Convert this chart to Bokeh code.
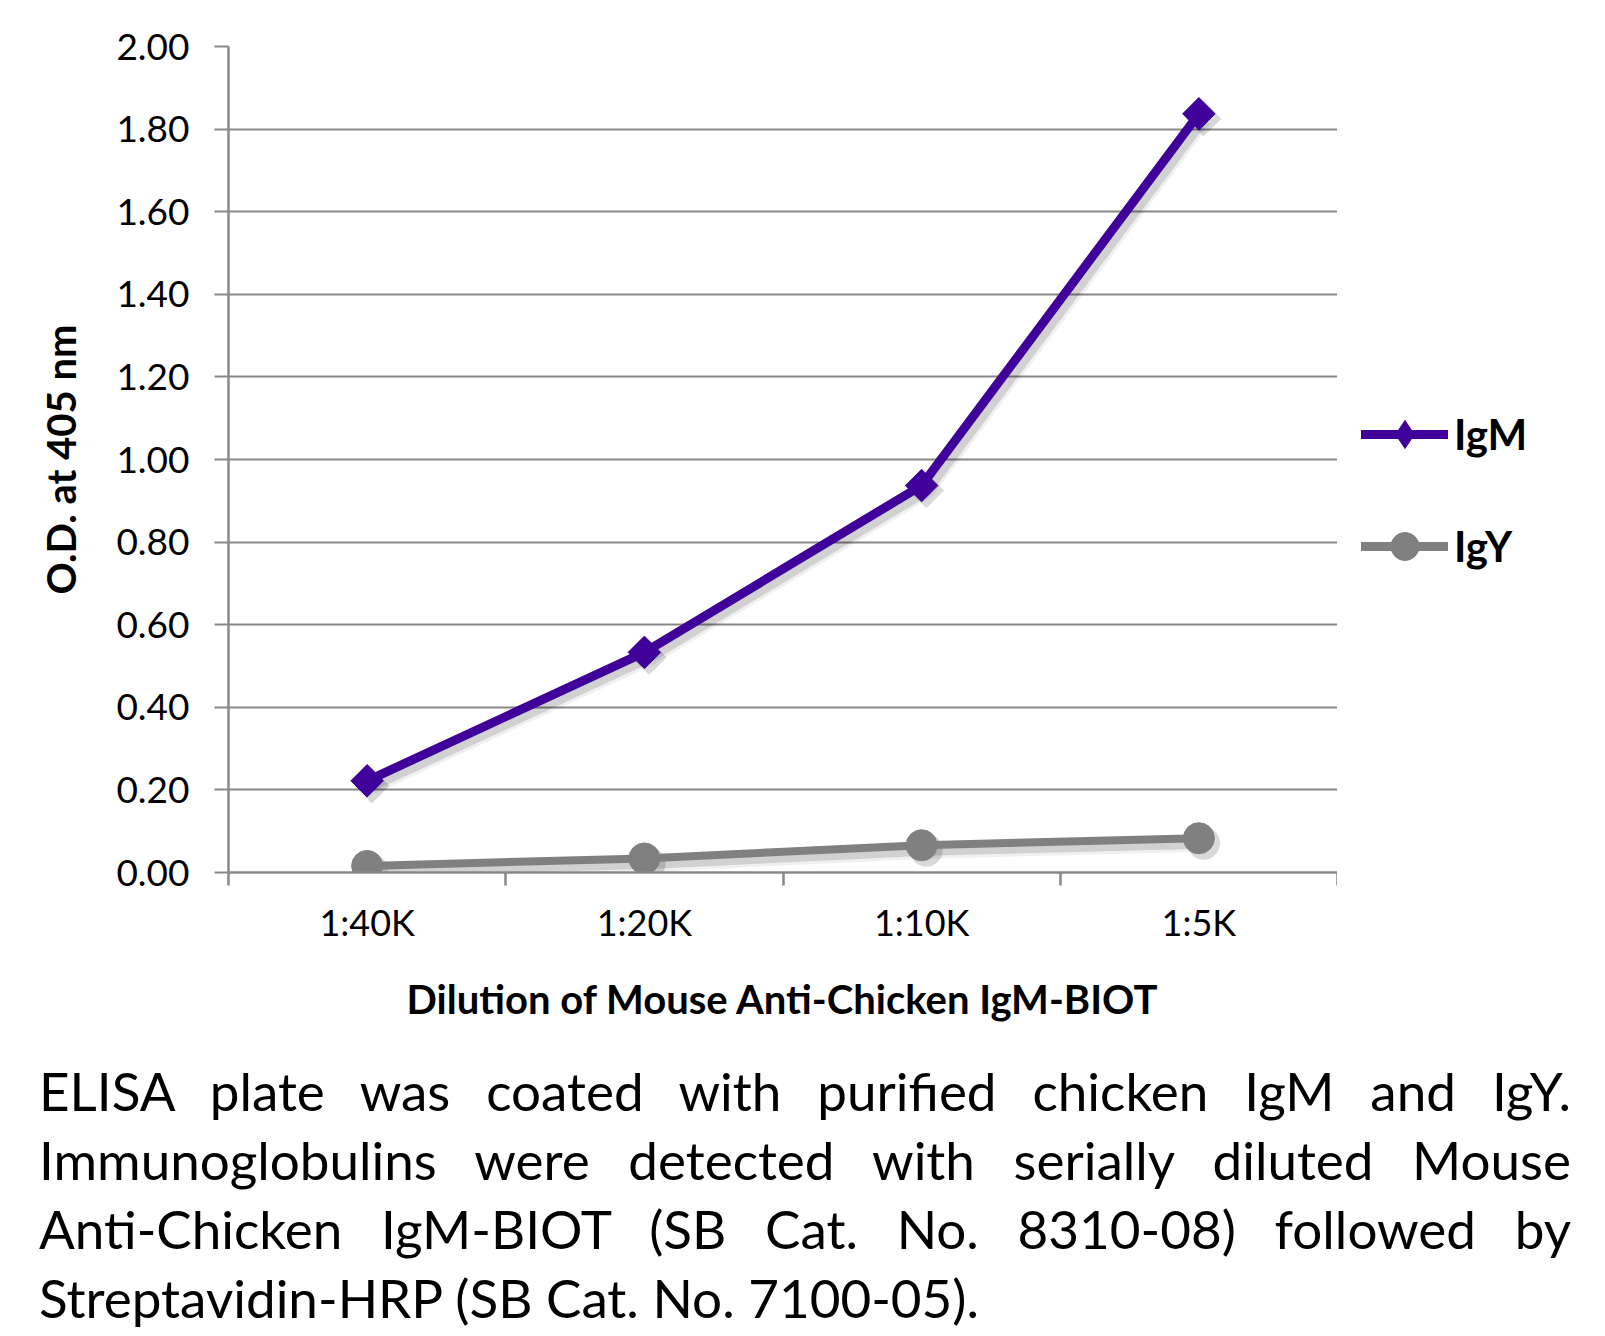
import numpy as np
from bokeh.plotting import figure
from bokeh.models import (Range1d, FixedTicker, Legend, LegendItem, Div, ColumnDataSource,
                          PrintfTickFormatter)
from bokeh.layouts import column, row
from bokeh.transform import dodge
from bokeh.embed import file_html
from bokeh.resources import INLINE

# ---------------- data ----------------
dilutions = ["1:40K", "1:20K", "1:10K", "1:5K"]
igm = [0.222, 0.533, 0.937, 1.837]
igy = [0.016, 0.034, 0.066, 0.083]
y_ticks = [0.0, 0.2, 0.4, 0.6, 0.8, 1.0, 1.2, 1.4, 1.6, 1.8, 2.0]
series_names = ["IgM", "IgY"]
x_title = "Dilution of Mouse Anti-Chicken IgM-BIOT"
y_title = "O.D. at 405 nm"
caption_lines = [
    "ELISA plate was coated with purified chicken IgM and IgY.",
    "Immunoglobulins were detected with serially diluted Mouse",
    "Anti-Chicken IgM-BIOT (SB Cat. No. 8310-08) followed by",
    "Streptavidin-HRP (SB Cat. No. 7100-05).",
]

# category slots: each dilution sits at the centre of its band
n = len(dilutions)
centers = [i + 0.5 for i in range(n)]
bounds = [float(i) for i in range(n + 1)]

# ---------------- style ----------------
FONT = "Lato"
IGM_COLOR = "#40009A"
IGY_COLOR = "#808080"
GRID = "#888888"

src = ColumnDataSource(dict(x=centers, label=dilutions, igm=igm, igy=igy))

p = figure(width=1337, height=1040,
           x_range=Range1d(0, n), y_range=Range1d(0, 2),
           output_backend="svg", toolbar_location=None,
           min_border_left=228, min_border_right=0,
           min_border_top=46, min_border_bottom=168)
p.outline_line_color = None
p.background_fill_color = "white"
p.border_fill_color = "white"

# grid
p.xgrid.visible = False
p.ygrid.ticker = FixedTicker(ticks=y_ticks)
p.ygrid.grid_line_color = GRID
p.ygrid.grid_line_width = 2

# y axis
ya = p.yaxis[0]
ya.ticker = FixedTicker(ticks=y_ticks)
ya.formatter = PrintfTickFormatter(format="%.2f")
ya.axis_line_color = GRID
ya.axis_line_width = 2.5
ya.major_tick_line_color = GRID
ya.major_tick_line_width = 2
ya.major_tick_out = 14
ya.major_tick_in = 0
ya.minor_tick_line_color = None
ya.major_label_standoff = 25
ya.major_label_text_font = FONT
ya.major_label_text_font_size = "37px"
ya.major_label_text_color = "#000000"
ya.axis_label = y_title
ya.axis_label_text_font = FONT
ya.axis_label_text_font_style = "bold"
ya.axis_label_text_font_size = "40px"
ya.axis_label_text_color = "#000000"
ya.axis_label_standoff = 28

# x axis: labels at band centres, tick marks at band boundaries
xa = p.xaxis[0]
xa.ticker = FixedTicker(ticks=centers, minor_ticks=bounds)
xa.major_label_overrides = {c: lab for c, lab in zip(centers, dilutions)}
xa.axis_line_color = GRID
xa.axis_line_width = 2.5
xa.major_tick_line_color = None
xa.major_tick_out = 0
xa.major_tick_in = 0
xa.minor_tick_line_color = GRID
xa.minor_tick_line_width = 2.5
xa.minor_tick_out = 13
xa.minor_tick_in = 0
xa.major_label_standoff = 14
xa.major_label_text_font = FONT
xa.major_label_text_font_size = "36px"
xa.major_label_text_color = "#000000"
xa.axis_label = x_title
xa.axis_label_text_font = FONT
xa.axis_label_text_font_style = "bold"
xa.axis_label_text_font_size = "40px"
xa.axis_label_text_color = "#000000"
xa.axis_label_standoff = 28

# soft drop shadows under the series
for field in ("igm", "igy"):
    for w, a in ((17, 0.06), (11, 0.13)):
        p.line(x=dodge("x", 0.017), y=dodge(field, -0.012),
               source=src, line_color="black", line_alpha=a, line_width=w)
for field, mk, sz in (("igm", "square", 25), ("igy", "circle", 33)):
    p.scatter(x=dodge("x", 0.017), y=dodge(field, -0.012), source=src, marker=mk,
              angle=np.pi / 4 if mk == "square" else 0, size=sz,
              fill_color="black", fill_alpha=0.15, line_color=None)

p.line("x", "igm", source=src, line_color=IGM_COLOR, line_width=9,
       line_cap="round", line_join="round")
p.scatter("x", "igm", source=src, marker="square", angle=np.pi / 4,
          size=23, fill_color=IGM_COLOR, line_color=IGM_COLOR)
p.line("x", "igy", source=src, line_color=IGY_COLOR, line_width=8,
       line_cap="round", line_join="round")
p.scatter("x", "igy", source=src, marker="circle", size=31,
          fill_color=IGY_COLOR, line_color=IGY_COLOR)

# ---------------- legend panel (to the right of the plot area) ----------------
# The series are re-attached here only as legend keys; this panel's y-range lies
# outside the data, so nothing but the legend is visible.
q = figure(width=252, height=1040, x_range=Range1d(0, n), y_range=Range1d(10, 11),
           output_backend="svg", toolbar_location=None,
           x_axis_location=None, y_axis_location=None,
           min_border=0, min_border_left=0, min_border_right=0,
           min_border_top=46, min_border_bottom=168)
q.grid.visible = False
q.outline_line_color = None
q.background_fill_color = "white"
q.border_fill_color = "white"

igm_key_line = q.line("x", "igm", source=src, line_color=IGM_COLOR, line_width=9,
                      line_cap="round")
igm_key_pt = q.scatter("x", "igm", source=src, marker="diamond", size=30,
                       fill_color=IGM_COLOR, line_color=IGM_COLOR)
igy_key_line = q.line("x", "igy", source=src, line_color=IGY_COLOR, line_width=9,
                      line_cap="round")
igy_key_pt = q.scatter("x", "igy", source=src, marker="circle", size=28,
                       fill_color=IGY_COLOR, line_color=IGY_COLOR)

legend = Legend(items=[LegendItem(label=series_names[0], renderers=[igm_key_line, igm_key_pt]),
                       LegendItem(label=series_names[1], renderers=[igy_key_line, igy_key_pt])],
                location=(24, 291), orientation="vertical",
                border_line_color=None, background_fill_alpha=0,
                label_text_font=FONT, label_text_font_style="bold",
                label_text_font_size="42px", label_text_color="#000000",
                glyph_width=87, glyph_height=70, label_height=70,
                spacing=42, padding=0, margin=0, label_standoff=6)
q.add_layout(legend)

# ---------------- caption ----------------
line_divs = []
for i, t in enumerate(caption_lines):
    last = (i == len(caption_lines) - 1)
    align = "left" if last else "justify"
    line_divs.append(
        f'<div style="text-align:{align};text-align-last:{align};white-space:nowrap;">{t}</div>')
caption_html = ('<div style="font-family:Lato;font-size:53px;line-height:69px;color:#000;'
                'margin-left:34px;width:1532px;padding-top:11px;">' + "".join(line_divs) + '</div>')
div = Div(text=caption_html, width=1589, height=294)

layout = column(row(p, q, spacing=0), div, spacing=0)
open("out.html", "w").write(file_html(layout, INLINE))
